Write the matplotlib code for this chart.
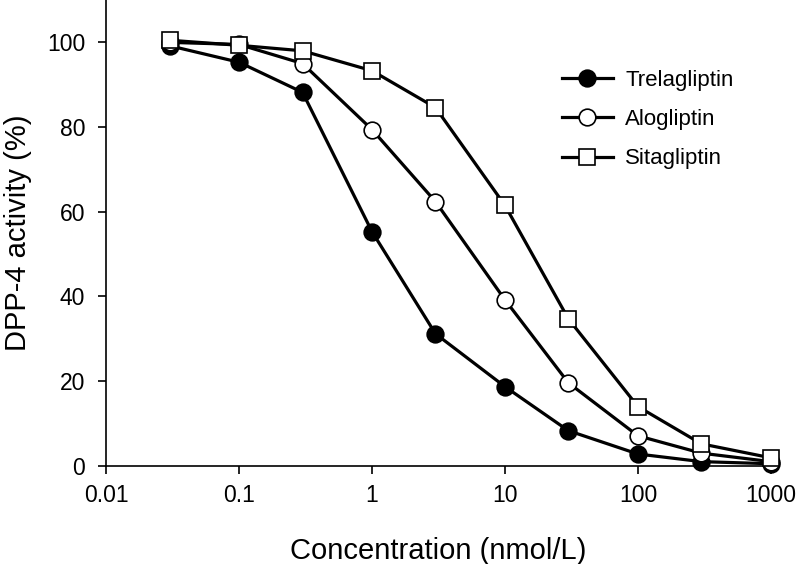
import matplotlib
matplotlib.use("Agg")
import matplotlib.pyplot as plt

plt.rcParams['font.family'] = ['Liberation Sans', 'DejaVu Sans']

###############################################################
# data
conc = [0.03, 0.1, 0.3, 1, 3, 10, 30, 100, 300, 1000]
trelagliptin = [99.2, 95.3, 88.2, 55.3, 31.2, 18.7, 8.3, 2.8, 1.0, 0.5]
alogliptin = [100.0, 99.5, 95.0, 79.4, 62.4, 39.2, 19.6, 7.1, 3.0, 1.0]
sitagliptin = [100.5, 99.3, 98.0, 93.3, 84.6, 61.5, 34.7, 14.0, 5.2, 1.9]

x_ticks = [0.01, 0.1, 1, 10, 100, 1000]
x_labels = ["0.01", "0.1", "1", "10", "100", "1000"]
y_ticks = [0, 20, 40, 60, 80, 100]

###############################################################
fig = plt.figure(figsize=(7.98, 5.64), dpi=100)
ax = fig.add_axes([0.133, 0.174, 0.833, 0.826])

ax.plot(conc, trelagliptin, color="black", lw=2.3, marker="o", ms=12,
        mfc="black", mec="black", mew=1.2, label="Trelagliptin", zorder=3,
        clip_on=False)
ax.plot(conc, alogliptin, color="black", lw=2.3, marker="o", ms=12,
        mfc="white", mec="black", mew=1.2, label="Alogliptin", zorder=4,
        clip_on=False)
ax.plot(conc, sitagliptin, color="black", lw=2.3, marker="s", ms=11,
        mfc="white", mec="black", mew=1.2, label="Sitagliptin", zorder=5,
        clip_on=False)

ax.set_xscale("log")
ax.set_xlim(0.01, 1000)
ax.set_ylim(0, 110)
ax.set_xticks(x_ticks)
ax.set_xticklabels(x_labels)
ax.xaxis.set_minor_locator(matplotlib.ticker.NullLocator())
ax.set_yticks(y_ticks)

ax.spines['top'].set_visible(False)
ax.spines['right'].set_visible(False)
ax.spines['left'].set_linewidth(1.2)
ax.spines['bottom'].set_linewidth(1.2)
ax.tick_params(axis='both', direction='out', length=6, width=1.2,
               labelsize=16.5, pad=7)
ax.tick_params(axis='y', pad=9)

ax.set_xlabel("Concentration (nmol/L)", fontsize=21, labelpad=22)
ax.set_ylabel("DPP-4 activity (%)", fontsize=21, labelpad=11)

fig.legend(loc="upper left", bbox_to_anchor=(0.704, 0.876), frameon=False,
           fontsize=16, handlelength=2.3, labelspacing=0.82,
           handletextpad=0.55, borderpad=0, borderaxespad=0)

fig.savefig("out.png", dpi=100)
